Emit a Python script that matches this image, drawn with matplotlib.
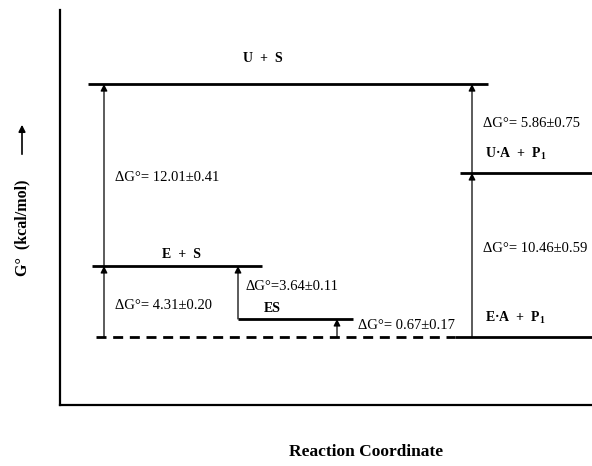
import matplotlib
matplotlib.use("Agg")
import matplotlib.pyplot as plt

plt.rcParams['font.family'] = ['Liberation Serif', 'DejaVu Serif']
plt.rcParams['mathtext.fontset'] = 'custom'
plt.rcParams['mathtext.rm'] = 'Liberation Serif'
plt.rcParams['mathtext.bf'] = 'Liberation Serif:bold'

# ---- data: free-energy levels (kcal/mol, relative to E·A + P1 baseline) ----
level_names = ["E + S", "ES", "U + S", "U·A + P1", "E·A + P1", "baseline"]
level_energy = [4.58, 1.16, 16.32, 10.58, 0.0, 0.0]

# transitions: (from energy, to energy) and their labels
dg_from = [0.0, 4.58, 1.16, 0.0, 0.0, 10.58]
dg_to = [4.58, 16.32, 4.58, 1.16, 10.58, 16.32]
dg_labels = ["ΔG°= 4.31±0.20", "ΔG°= 12.01±0.41", "ΔG°=3.64±0.11",
             "ΔG°= 0.67±0.17", "ΔG°= 10.46±0.59", "ΔG°= 5.86±0.75"]

# ---- layout (reaction-coordinate positions) ----
level_x0 = [92, 238, 88, 460, 455, 96]
level_x1 = [262, 353, 488, 592, 592, 455]
level_style = ['-', '-', '-', '-', '-', '--']
arrow_x = [104, 104, 238, 337, 472, 472]
dg_text_xy = [(115, 2.0), (115, 10.26), (246, 3.23), (358, 0.77), (483, 5.74), (483, 13.8)]

fig = plt.figure(figsize=(5.92, 4.66), dpi=100)
ax = fig.add_axes([60/592, 61/466, 532/592, 395/466])
ax.set_xlim(60, 592)
ax.set_ylim(-4.39, 21.1)
for s in ['top', 'right']:
    ax.spines[s].set_visible(False)
for s in ['left', 'bottom']:
    ax.spines[s].set_linewidth(1.6)
ax.set_xticks([])
ax.set_yticks([])

for e, x0, x1, ls in zip(level_energy, level_x0, level_x1, level_style):
    if ls == '--':
        ax.plot([x0, x1], [e, e], color='black', lw=2.0, ls=(0, (3.6, 2.4)),
                solid_capstyle='butt', clip_on=False)
    else:
        ax.plot([x0, x1], [e, e], color='black', lw=2.0, clip_on=False,
                solid_capstyle='butt')

for x, e0, e1 in zip(arrow_x, dg_from, dg_to):
    ax.annotate('', xy=(x, e1), xytext=(x, e0),
                arrowprops=dict(arrowstyle='-|>', lw=0.9, color='black',
                                mutation_scale=10, shrinkA=0, shrinkB=0))

for (tx, ty), lab in zip(dg_text_xy, dg_labels):
    ax.text(tx, ty, lab, fontsize=10.5, ha='left', va='center')

# species labels
ax.text(263, 18.0, "U  +  S", fontsize=10, fontweight='bold', ha='center', va='center')
ax.text(182, 5.35, "E  +  S", fontsize=10, fontweight='bold', ha='center', va='center')
ax.text(272, 1.81, "ES", fontsize=10, fontweight='bold', ha='center', va='center')
ax.text(485, 11.8, r"U·A  +  P$_{\mathbf{1}}$", fontsize=10, fontweight='bold',
        ha='left', va='center')
ax.text(485, 1.23, r"E·A  +  P$_{\mathbf{1}}$", fontsize=10, fontweight='bold',
        ha='left', va='center')

# axis labels
fig.text(366/592, 1 - 452/466, "Reaction Coordinate", fontsize=12.5,
         fontweight='bold', ha='center', va='center')
fig.text(22/592, 1 - 228/466, "G°  (kcal/mol)", fontsize=11.5, fontweight='bold',
         rotation=90, ha='center', va='center')
fig.patches.append(matplotlib.patches.FancyArrowPatch(
    (22/592, 1 - 157/466), (22/592, 1 - 122/466), transform=fig.transFigure,
    arrowstyle='-|>', mutation_scale=10, lw=1.2, color='black'))

fig.savefig("out.png", dpi=100)
